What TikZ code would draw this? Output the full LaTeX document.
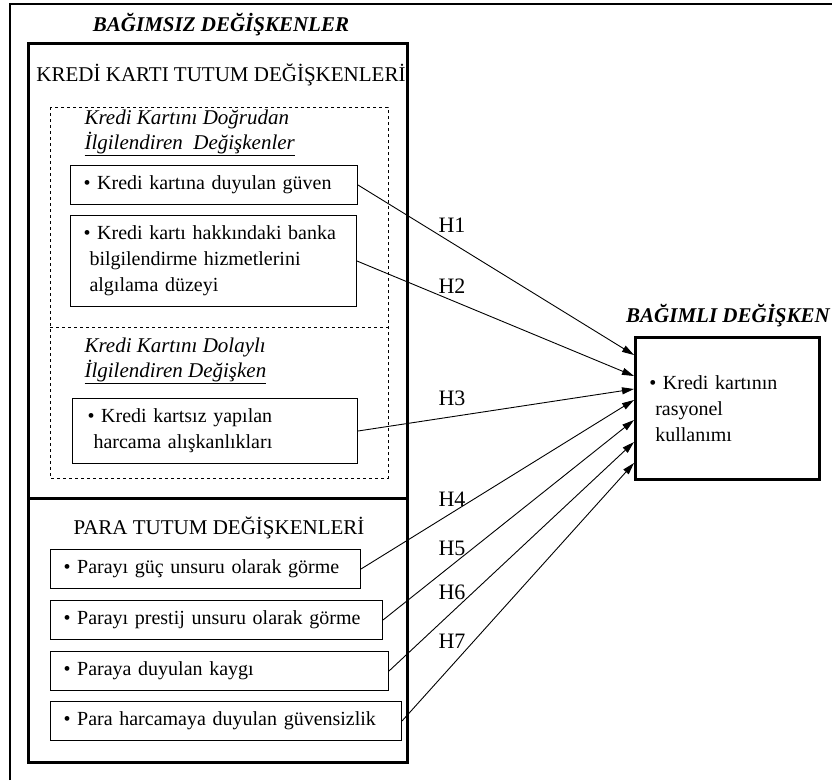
\documentclass[tikz,border=0pt]{standalone}
\usepackage{fontspec}
\setmainfont{Liberation Serif}
\usetikzlibrary{arrows.meta,calc}

\tikzset{
  bx/.style={draw, line width=1pt, anchor=north west, align=left, inner xsep=13pt, inner ysep=0pt},
  hd/.style={font=\fontsize{21}{26}\selectfont\bfseries\itshape},
  grp/.style={font=\fontsize{21}{26}\selectfont},
  sub/.style={anchor=west, align=left, font=\fontsize{21}{25}\selectfont\itshape},
  hyp/.style={-{Triangle[length=12pt,width=7pt]}, line width=0.9pt}
}

\begin{document}
\begin{tikzpicture}[x=1pt,y=-1pt,font=\fontsize{20}{26}\selectfont]
  \useasboundingbox (0,0) rectangle (832,780);

  % outer frame
  \draw[line width=1.2pt] (10,780) |- (832,4);

  % independent variables
  \node[hd] (bagimsiz) at (221,25) {BAĞIMSIZ DEĞİŞKENLER};
  \draw[line width=3pt] (28,43) rectangle (407,762);
  \draw[line width=3pt] (28,498) -- (407,498);
  \node[grp] (kkt) at (221,75) {KREDİ KARTI TUTUM DEĞİŞKENLERİ};

  % credit card variables (dashed group)
  \draw[dashed, line width=1pt] (50,107) rectangle (388,478);
  \draw[dashed, line width=1pt] (50,327) -- (388,327);
  \node[sub] (dogrudan) at (81,133)
    {Kredi Kartını Doğrudan\\\underline{İlgilendiren\ \ Değişkenler}};
  \node[bx, text width=261pt, minimum height=39pt] (k1) at (70,165)
    {\textbullet\ Kredi kartına duyulan güven};
  \node[bx, text width=260pt, minimum height=91pt] (k2) at (70,215)
    {\textbullet\ Kredi kartı hakkındaki banka\\\hspace*{0.3em}bilgilendirme hizmetlerini\\\hspace*{0.3em}algılama düzeyi};
  \node[sub] (dolayli) at (81,361)
    {Kredi Kartını Dolaylı\\\underline{İlgilendiren\ Değişken}};
  \node[bx, inner xsep=15pt, text width=255pt, minimum height=65pt] (k3) at (72,398)
    {\textbullet\ Kredi kartsız yapılan\\\hspace*{0.3em}harcama alışkanlıkları};

  % money attitude variables
  \node[grp] (ptd) at (219,528) {PARA TUTUM DEĞİŞKENLERİ};
  \node[bx, text width=284pt, minimum height=39pt] (p1) at (50,549)
    {\textbullet\ Parayı güç unsuru olarak görme};
  \node[bx, text width=306pt, minimum height=39pt] (p2) at (50,600)
    {\textbullet\ Parayı prestij unsuru olarak görme};
  \node[bx, text width=312pt, minimum height=39pt] (p3) at (50,651)
    {\textbullet\ Paraya duyulan kaygı};
  \node[bx, text width=325pt, minimum height=39pt] (p4) at (50,701)
    {\textbullet\ Para harcamaya duyulan güvensizlik};

  % dependent variable
  \node[hd] (bagimli) at (728,316) {BAĞIMLI DEĞİŞKEN};
  \node[bx, line width=2.5pt, inner xsep=14pt, text width=156pt, minimum height=142pt] (dep) at (634,336)
    {\textbullet\ Kredi kartının\\\hspace*{0.3em}rasyonel\\\hspace*{0.3em}kullanımı};

  % hypotheses
  \foreach \s/\o in {k1/19,k2/40,k3/53,p1/64,p2/84,p3/106,p4/127} {
    \draw[hyp] (\s.east) -- ($(dep.north west)+(0,\o)$);
  }
  \foreach \y/\n in {225/1,286/2,398/3,499/4,548/5,592/6,641/7} {
    \node[font=\fontsize{22}{26}\selectfont] (h\n) at (452,\y) {H\n};
  }
\end{tikzpicture}
\end{document}
